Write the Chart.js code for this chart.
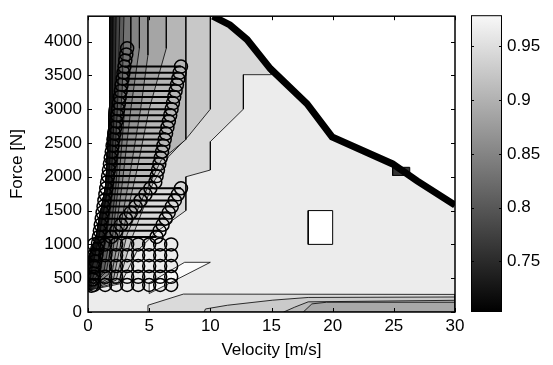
<!DOCTYPE html>
<html>
<head>
<meta charset="utf-8">
<script src="https://cdn.jsdelivr.net/npm/chart.js@4.4.0/dist/chart.umd.min.js"></script>
<style>
  body { margin: 0; background: #fff; }
  #wrap { position: relative; width: 553px; height: 365px; }
  canvas { position: absolute; top: 0; }
</style>
</head>
<body>
<div id="wrap">
  <canvas id="main" width="553" height="365" style="left:0"></canvas>
  <canvas id="cbar" width="93" height="365" style="left:460px"></canvas>
</div>
<script>
var xTicks = [0, 5, 10, 15, 20, 25, 30];
var yTicks = [0, 500, 1000, 1500, 2000, 2500, 3000, 3500, 4000];
var cbarTicks = [0.75, 0.8, 0.85, 0.9, 0.95];
var cbarMin = 0.703, cbarMax = 0.979;
var forceMax = 4375;

// left edge of the computed region (v, F)
var leftEdge = [[0, 780], [0.65, 1100], [1.47, 1900], [1.8, 3200], [1.8, 4375]];
// right limit, where all the contours pile up
var limitLine = [[10.2, 4375], [11.6, 4245], [13.0, 4030], [14.9, 3600], [17.9, 3080],
                 [19.95, 2590], [24.9, 2190], [26.9, 1940], [30, 1580]];

// contour edges, dark side is to the left
var edgeA = [[2.05, 4375], [2.0, 3200], [1.7, 1900], [0.9, 1100], [0.4, 700], [0, 320]];
var edgeB = [[2.3, 4375], [2.2, 3200], [1.9, 1900], [1.2, 1100], [0.7, 650], [0, 320]];
var edgeC = [[2.6, 4375], [2.45, 3200], [2.1, 1900], [1.5, 1100], [1.0, 620], [0, 320]];
var edgeD = [[2.94, 4375], [2.8, 3300], [2.3, 1900], [1.8, 1100], [1.3, 600], [0, 320]];
var edgeE = [[3.5, 4375], [3.5, 3900], [3.0, 3000], [2.5, 1900], [2.0, 1100], [1.5, 600], [0, 320]];
var edgeF = [[4.2, 4375], [4.2, 3900], [3.5, 3000], [2.8, 1900], [2.2, 1100], [1.7, 560], [0, 320]];
var edgeG = [[4.9, 4375], [4.9, 3800], [4.3, 3000], [3.3, 1900], [2.5, 1100], [1.9, 520], [0, 320]];
var edgeH = [[6.4, 4375], [6.4, 3900], [5.0, 3000], [4.0, 2100], [3.0, 1300], [2.1, 500], [0, 320]];
var edgeI = [[8.0, 4375], [8.0, 2550], [6.0, 2250], [4.5, 1700], [3.2, 1150], [2.3, 470], [0, 320]];
var edgeJ = [[10.0, 4375], [10.0, 3000], [8.2, 2600], [6.6, 2300], [5.3, 1900], [3.6, 1100], [2.5, 440], [0, 320]];
var edgeK = [[10.2, 4375], [11.6, 4245], [13.0, 4030], [15.0, 3510], [12.7, 3510], [12.7, 3000],
             [10.0, 2520], [10.0, 2100], [8.0, 2000], [8.0, 1500], [5.7, 1200], [4.0, 900], [2.7, 420], [0, 320]];
var edgeList = [edgeK, edgeJ, edgeI, edgeH, edgeG, edgeF, edgeE, edgeD, edgeC, edgeB, edgeA];
var edgeColors = ['#d9d9d9', '#c8c8c8', '#b6b6b6', '#a5a5a5', '#949494', '#838383',
                  '#727272', '#5c5c5c', '#444444', '#2b2b2b', '#111111'];

// bottom bands (v, F)
var bandA = [[4.9, 0], [4.9, 100], [7.8, 265], [30, 260], [30, 0]];
var bandB = [[9.5, 0], [9.6, 45], [11.4, 100], [15.1, 175], [18, 215], [30, 222], [30, 0]];
var bandC = [[16, 0], [16.9, 72], [18, 150], [30, 173], [30, 0]];
var bandD = [[17.6, 0], [18.3, 120], [19.5, 144], [30, 144], [30, 0]];
var bandColors = ['#dadada', '#cacaca', '#b9b9b9', '#a8a8a8'];

var whiteWedge = [[7.9, 735], [10.0, 735], [5.0, 273], [5.0, 430]];
var whiteBox = [[18, 1000], [20, 1000], [20, 1500], [18, 1500]];
var darkNotch = [[24.9, 2020], [26.3, 2020], [26.3, 2140], [24.9, 2140]];

// operating points
var leftChainF = [3900, 3810, 3720, 3630, 3540, 3450, 3360, 3270, 3180, 3090, 3000, 2910, 2820, 2730,
                  2640, 2550, 2460, 2370, 2280, 2190, 2100, 2010, 1920, 1830, 1740, 1650, 1560, 1470,
                  1380, 1290, 1200, 1110, 1020, 930, 840, 750, 660, 570, 480, 390];
var leftChainV = [3.20, 3.13, 3.05, 2.98, 2.90, 2.83, 2.75, 2.68, 2.60, 2.53, 2.46, 2.38, 2.31, 2.23,
                  2.16, 2.08, 2.01, 1.94, 1.86, 1.79, 1.71, 1.64, 1.56, 1.49, 1.42, 1.34, 1.27, 1.19,
                  1.12, 1.04, 0.97, 0.89, 0.82, 0.75, 0.67, 0.60, 0.52, 0.45, 0.37, 0.30];
var chainBF = [3630, 3540, 3450, 3360, 3270, 3180, 3090, 3000, 2910, 2820, 2730, 2640, 2550, 2460,
               2370, 2280, 2190, 2100, 2010, 1920];
var chainBV = [7.60, 7.49, 7.38, 7.27, 7.16, 7.05, 6.94, 6.83, 6.72, 6.61, 6.49, 6.38, 6.27, 6.16,
               6.05, 5.94, 5.83, 5.72, 5.61, 5.50];
var chainLowF = [1830, 1740, 1650, 1560, 1470, 1380, 1290, 1200, 1110];
var chainLowV = [5.1, 4.7, 4.3, 3.9, 3.5, 3.1, 2.7, 2.3, 1.9];
var chainCF = [1830, 1740, 1650, 1560, 1470, 1380, 1290, 1200, 1110];
var chainCV = [7.6, 7.35, 7.1, 6.85, 6.6, 6.35, 6.1, 5.85, 5.6];
var gridF = [1000, 840, 680, 520, 400];
var gridV = [0.5, 1.4, 2.3, 3.2, 4.1, 5.0, 5.9, 6.8];

Chart.defaults.font.family = '"Liberation Sans", Arial, Helvetica, sans-serif';
Chart.defaults.font.size = 17;
Chart.defaults.color = '#000';

function pts(list) {
  return list.map(function(p) { return {x: p[0], y: p[1]}; });
}

function shape(list, color, lw) {
  var d = pts(list);
  d.push(d[0]);
  return {
    data: d, showLine: true, fill: 'shape', backgroundColor: color,
    borderColor: '#000', borderWidth: lw, pointRadius: 0, tension: 0
  };
}

var layers = [];
// computed region
var region = [[0, 0]].concat(leftEdge, limitLine, [[30, 0]]);
layers.push(shape(region, '#ececec', 0));
for (var i = 0; i < edgeList.length; i++) {
  var poly = leftEdge.concat(edgeList[i]);
  layers.push(shape(poly, edgeColors[i], 0.8));
}
[bandA, bandB, bandC, bandD].forEach(function(b, k) {
  layers.push(shape(b, bandColors[k], 0.8));
});
layers.push(shape(whiteWedge, '#fbfbfb', 0.8));
layers.push(shape(whiteBox, '#ffffff', 1));
layers.push(shape(darkNotch, '#333333', 1));
layers.push({
  data: pts(limitLine), showLine: true, fill: false, borderColor: '#000',
  borderWidth: 7, pointRadius: 0, tension: 0
});

function leftV(f) {
  return leftChainV[leftChainF.indexOf(f)];
}
chainBF.forEach(function(f, k) {
  layers.push({ data: [{x: leftV(f), y: f}, {x: chainBV[k], y: f}], showLine: true,
    borderColor: '#000', borderWidth: 2, pointRadius: 0 });
});
chainCF.forEach(function(f, k) {
  layers.push({ data: [{x: leftV(f), y: f}, {x: chainCV[k], y: f}], showLine: true,
    borderColor: '#000', borderWidth: 2, pointRadius: 0 });
});

var circles = [];
leftChainF.forEach(function(f, k) { circles.push({x: leftChainV[k], y: f}); });
chainBF.forEach(function(f, k) { circles.push({x: chainBV[k], y: f}); });
chainLowF.forEach(function(f, k) { circles.push({x: chainLowV[k], y: f}); });
chainCF.forEach(function(f, k) { circles.push({x: chainCV[k], y: f}); });
gridF.forEach(function(f) {
  gridV.forEach(function(v) { circles.push({x: v, y: f}); });
});
layers.push({
  data: circles, showLine: false, pointRadius: 6.5, pointStyle: 'circle',
  pointBorderColor: '#000', pointBackgroundColor: 'rgba(0,0,0,0)', pointBorderWidth: 1.5
});

// first layer gets the highest order, so it is drawn first
layers.forEach(function(ds, k) { ds.order = layers.length - k; });

var boxTicks = {
  id: 'boxTicks',
  afterDatasetsDraw: function(chart) {
    var c = chart.ctx, a = chart.chartArea;
    var sx = chart.scales.x, sy = chart.scales.y;
    c.save();
    c.strokeStyle = '#000';
    c.lineWidth = 1;
    c.beginPath();
    xTicks.forEach(function(v) {
      var px = Math.round(sx.getPixelForValue(v)) + 0.5;
      c.moveTo(px, a.bottom); c.lineTo(px, a.bottom - 4);
      c.moveTo(px, a.top); c.lineTo(px, a.top + 4);
    });
    yTicks.forEach(function(v) {
      var py = Math.round(sy.getPixelForValue(v)) + 0.5;
      c.moveTo(a.left, py); c.lineTo(a.left + 4, py);
      c.moveTo(a.right, py); c.lineTo(a.right - 4, py);
    });
    c.stroke();
    c.lineWidth = 1.5;
    c.strokeRect(a.left, a.top, a.right - a.left, a.bottom - a.top);
    c.restore();
  }
};

new Chart(document.getElementById('main'), {
  type: 'scatter',
  data: { datasets: layers },
  options: {
    responsive: false, animation: false, events: [],
    layout: { padding: { left: 0, right: 98, top: 8, bottom: 0 } },
    plugins: { legend: { display: false }, tooltip: { enabled: false } },
    scales: {
      x: {
        type: 'linear', min: 0, max: 30,
        grid: { display: false, drawTicks: false }, border: { display: false },
        afterBuildTicks: function(s) { s.ticks = xTicks.map(function(v) { return {value: v}; }); },
        afterFit: function(s) { s.height = 53; },
        ticks: { padding: 4, maxRotation: 0, callback: function(v) { return String(v); } },
        title: { display: true, text: 'Velocity [m/s]', padding: { top: 0, bottom: 4 } }
      },
      y: {
        type: 'linear', min: 0, max: forceMax,
        grid: { display: false, drawTicks: false }, border: { display: false },
        afterBuildTicks: function(s) { s.ticks = yTicks.map(function(v) { return {value: v}; }); },
        afterFit: function(s) { s.width = 88; },
        ticks: { padding: 6, callback: function(v) { return String(v); } },
        title: { display: true, text: 'Force [N]', padding: { top: 7, bottom: 0 } }
      }
    }
  },
  plugins: [boxTicks]
});

var cbarTicksPlugin = {
  id: 'cbarTicks',
  afterDatasetsDraw: function(chart) {
    var c = chart.ctx, a = chart.chartArea, sy = chart.scales.y;
    c.save();
    c.strokeStyle = '#000';
    c.lineWidth = 1;
    c.beginPath();
    cbarTicks.forEach(function(v) {
      var py = Math.round(sy.getPixelForValue(v)) + 0.5;
      c.moveTo(a.left, py); c.lineTo(a.left + 3, py);
      c.moveTo(a.right, py); c.lineTo(a.right - 3, py);
    });
    c.stroke();
    c.strokeRect(a.left + 0.5, a.top + 0.5, a.right - a.left - 1, a.bottom - a.top - 1);
    c.restore();
  }
};

new Chart(document.getElementById('cbar'), {
  type: 'bar',
  data: {
    labels: [''],
    datasets: [{
      data: [[cbarMin, cbarMax]],
      backgroundColor: function(ctx) {
        var ch = ctx.chart, a = ch.chartArea;
        if (!a) return '#888';
        var g = ch.ctx.createLinearGradient(0, a.bottom, 0, a.top);
        g.addColorStop(0, '#000');
        g.addColorStop(1, '#f8f8f8');
        return g;
      },
      borderWidth: 0, barPercentage: 1, categoryPercentage: 1
    }]
  },
  options: {
    responsive: false, animation: false, events: [],
    layout: { padding: { left: 11, right: 0, top: 8, bottom: 53 } },
    plugins: { legend: { display: false }, tooltip: { enabled: false } },
    scales: {
      x: { display: false },
      y: {
        position: 'right', min: cbarMin, max: cbarMax,
        grid: { display: false, drawTicks: false }, border: { display: false },
        afterBuildTicks: function(s) { s.ticks = cbarTicks.map(function(v) { return {value: v}; }); },
        afterFit: function(s) { s.width = 51; },
        ticks: { padding: 5, callback: function(v) { return String(v); } }
      }
    }
  },
  plugins: [cbarTicksPlugin]
});
</script>
</body>
</html>
